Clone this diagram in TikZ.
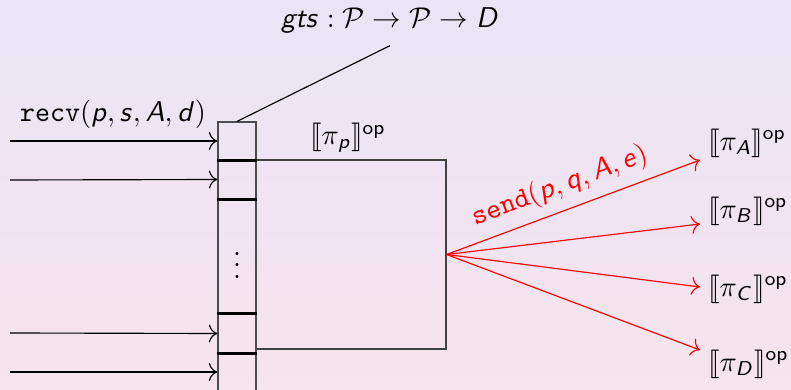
\documentclass[tikz,border=0pt]{standalone}
\usepackage{amsmath}
\usepackage{stmaryrd}
\usetikzlibrary{arrows.meta, positioning}

\DeclareSymbolFont{sfit}{OT1}{cmss}{m}{sl}
\DeclareMathSymbol{p}{\mathalpha}{sfit}{`p}
\DeclareMathSymbol{q}{\mathalpha}{sfit}{`q}
\DeclareMathSymbol{s}{\mathalpha}{sfit}{`s}
\DeclareMathSymbol{d}{\mathalpha}{sfit}{`d}
\DeclareMathSymbol{e}{\mathalpha}{sfit}{`e}
\DeclareMathSymbol{g}{\mathalpha}{sfit}{`g}
\DeclareMathSymbol{t}{\mathalpha}{sfit}{`t}
\DeclareMathSymbol{A}{\mathalpha}{sfit}{`A}
\DeclareMathSymbol{B}{\mathalpha}{sfit}{`B}
\DeclareMathSymbol{C}{\mathalpha}{sfit}{`C}
\DeclareMathSymbol{D}{\mathalpha}{sfit}{`D}

\newcommand{\semop}[1]{\llbracket #1 \rrbracket^{\mathsf{op}}}

\definecolor{bgtop}{RGB}{233,229,246}
\definecolor{bgbot}{RGB}{247,228,236}

\begin{document}
\begin{tikzpicture}[
              x=0.35pt, y=-0.35pt,
              cell/.style={draw=black!70, rectangle, inner sep=0pt, minimum width=13.3pt},
              procbox/.style={draw=black!75, rectangle, inner sep=0pt, minimum width=66.5pt, minimum height=66.15pt},
              sep/.style={thick},
              arr/.style={-{To[length=3pt]}},
              sendarr/.style={arr, red}
            ]
              \useasboundingbox (0,0) rectangle (791,390);
              \shade[top color=bgtop, bottom color=bgbot] (0,0) rectangle (791,390);
              \clip (0,0) rectangle (791,390);

              \node[procbox] (proc) at (351,254.5) {};
              \node[cell, minimum height=13.3pt]  (c1)   at (237,141) {};
              \node[cell, minimum height=13.65pt] (c2)   at (237,179.5) {};
              \node[cell, minimum height=40.25pt] (dots) at (237,256.5) {$\vdots$};
              \node[cell, minimum height=13.65pt] (c3)   at (237,333.5) {};
              \node[cell, minimum height=18.9pt]  (c4)   at (237,380) {};

              \draw[sep] (c1.south west) -- (c1.south east);
              \draw[sep] (c2.south west) -- (c2.south east);
              \draw[sep] (c3.north west) -- (c3.north east);
              \draw[sep] (c3.south west) -- (c3.south east);

              \node (recvlbl) at (113,114) {\texttt{recv}$(p, s, A, d)$};
              \node (gts) at (390,20) {$gts : \mathcal{P} \to \mathcal{P} \to D$};
              \node (pilbl) at (348,138) {$\semop{\pi_p}$};

              \coordinate (in1) at (10,141);
              \coordinate (in2) at (10,180);
              \coordinate (in3) at (10,333);
              \coordinate (in4) at (10,372);
              \draw[arr] (in1) -- (c1.west);
              \draw[arr] (in2) -- (c2.west);
              \draw[arr] (in3) -- (c3.west);
              \draw[arr] (in4) -- (in4 -| c4.west);

              \draw (c1.north) -- ([yshift=-1pt]gts.south);

              \coordinate (tA) at (700,160);
              \coordinate (tB) at (700,224);
              \coordinate (tC) at (700,287);
              \coordinate (tD) at (700,350);
              \node[anchor=west] (piA) at (698,143) {$\semop{\pi_A}$};
              \node[anchor=west] (piB) at (698,211) {$\semop{\pi_B}$};
              \node[anchor=west] (piC) at (698,289) {$\semop{\pi_C}$};
              \node[anchor=west] (piD) at (698,364) {$\semop{\pi_D}$};

              \draw[sendarr] (proc.east) -- node[sloped, above, pos=0.48] {\texttt{send}$(p, q, A, e)$} (tA);
              \draw[sendarr] (proc.east) -- (tB);
              \draw[sendarr] (proc.east) -- (tC);
              \draw[sendarr] (proc.east) -- (tD);
            \end{tikzpicture}
\end{document}
